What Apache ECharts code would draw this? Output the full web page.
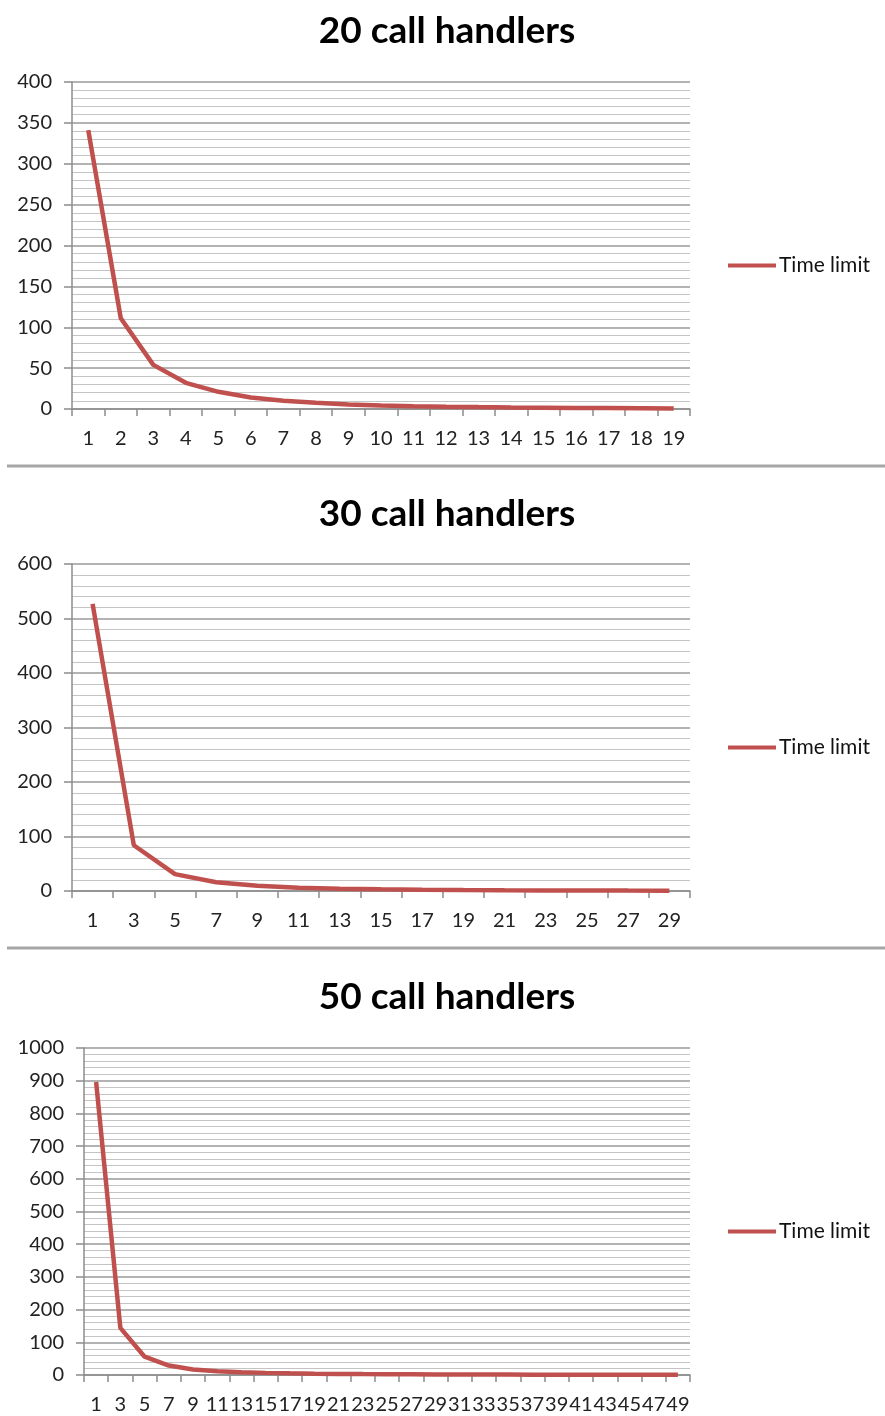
<!DOCTYPE html>
<html>
<head>
<meta charset="utf-8">
<script src="https://cdn.jsdelivr.net/npm/echarts@6/dist/echarts.min.js"></script>
<style>
  html, body { margin: 0; padding: 0; background: #fff; }
  #chart { width: 885px; height: 1416px; }
</style>
</head>
<body>
<div id="chart"></div>
<script>
// ---- data ----
const titles = ['20 call handlers', '30 call handlers', '50 call handlers'];
const seriesName = 'Time limit';

const cats20 = ['1','2','3','4','5','6','7','8','9','10','11','12','13','14','15','16','17','18','19'];
const values20 = [341, 111, 54, 32, 21, 14, 10, 7.5, 5.5, 4.3, 3.4, 2.8, 2.3, 1.9, 1.6, 1.3, 1.1, 0.9, 0.7];

const cats30 = ['1','3','5','7','9','11','13','15','17','19','21','23','25','27','29'];
const values30 = [527, 84, 31, 16, 9.5, 6, 4.2, 3, 2.3, 1.8, 1.4, 1.1, 0.9, 0.7, 0.6];

const cats50 = ['1','3','5','7','9','11','13','15','17','19','21','23','25','27','29','31','33','35','37','39','41','43','45','47','49'];
const values50 = [896, 144, 56, 29, 17, 11.5, 8.5, 6.5, 5, 4, 3.3, 2.8, 2.4, 2.1, 1.8, 1.6, 1.4, 1.3, 1.1, 1, 0.9, 0.8, 0.7, 0.7, 0.6];

const yMax = [400, 600, 1000];
const yInterval = [50, 100, 100];

// ---- layout / style ----
const FONT = 'Lato, "Open Sans", sans-serif';
const panels = [
  { cats: cats20, vals: values20, top: 82,   left: 72, titleTop: 8,   legendTop: 250 },
  { cats: cats30, vals: values30, top: 564,  left: 72, titleTop: 491, legendTop: 732 },
  { cats: cats50, vals: values50, top: 1048, left: 84, titleTop: 974, legendTop: 1216 }
];
const plotH = 327;

const option = {
  animation: false,
  backgroundColor: '#ffffff',
  title: panels.map((p, i) => ({
    text: titles[i],
    left: 442, textAlign: 'center',
    top: p.titleTop,
    textStyle: { fontFamily: FONT, fontSize: 37, fontWeight: 'bold', color: '#000' }
  })),
  legend: panels.map((p, i) => ({
    data: [seriesName],
    left: 723, top: p.legendTop,
    icon: 'rect', itemWidth: 48, itemHeight: 4, itemGap: 4,
    textStyle: { fontFamily: FONT, fontSize: 21, color: '#111', padding: [0, 0, 0, -2] },
    selectedMode: false
  })),
  grid: panels.map(p => ({
    left: p.left, width: 690 - p.left, top: p.top, height: plotH, containLabel: false
  })),
  xAxis: panels.map((p, i) => ({
    type: 'category', gridIndex: i, data: p.cats, boundaryGap: true,
    axisLine: { show: true, lineStyle: { color: '#8c8c8c', width: 1.5 } },
    axisTick: { show: true, length: 7, interval: 0, lineStyle: { color: '#8c8c8c', width: 1.5 } },
    axisLabel: { interval: 0, margin: 20, hideOverlap: false, fontFamily: FONT, fontSize: 20, color: '#222' },
    splitLine: { show: false }
  })),
  yAxis: panels.map((p, i) => ({
    type: 'value', gridIndex: i, min: 0, max: yMax[i], interval: yInterval[i],
    axisLine: { show: true, lineStyle: { color: '#8c8c8c', width: 1.5 } },
    axisTick: { show: true, length: 8, lineStyle: { color: '#8c8c8c', width: 1.5 } },
    axisLabel: { margin: 20, fontFamily: FONT, fontSize: 20, color: '#222', formatter: v => String(v) },
    splitLine: { show: true, lineStyle: { color: '#9a9a9a', width: 1.5 } },
    minorTick: { show: false, splitNumber: 5 },
    minorSplitLine: { show: true, lineStyle: { color: '#c4c4c4', width: 1.2 } }
  })),
  series: panels.map((p, i) => ({
    name: seriesName, type: 'line', xAxisIndex: i, yAxisIndex: i,
    data: p.vals, showSymbol: false, symbol: 'none', smooth: false,
    lineStyle: { color: '#c0504d', width: 4.5 },
    itemStyle: { color: '#c0504d' }
  })),
  graphic: [
    { type: 'line', shape: { x1: 7, y1: 466, x2: 885, y2: 466 }, style: { stroke: '#a6a6a6', lineWidth: 3 } },
    { type: 'line', shape: { x1: 7, y1: 948, x2: 885, y2: 948 }, style: { stroke: '#a6a6a6', lineWidth: 3 } }
  ]
};

const chart = echarts.init(document.getElementById('chart'), null, { renderer: 'canvas' });
chart.setOption(option);
</script>
</body>
</html>
